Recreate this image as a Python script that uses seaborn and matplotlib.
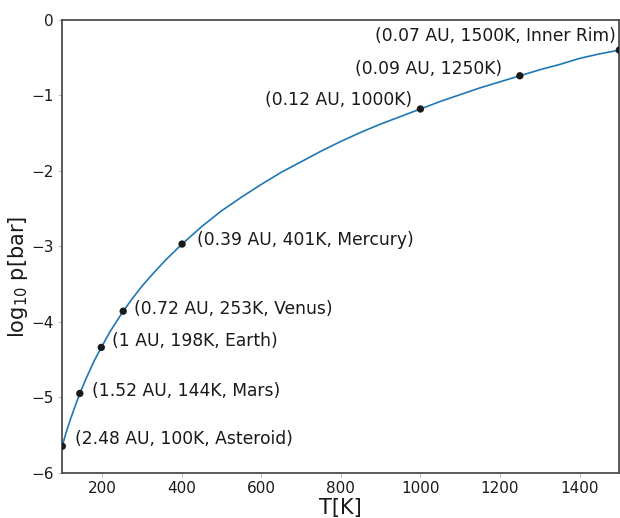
import numpy as np
import pandas as pd
import matplotlib
matplotlib.use('Agg')
import matplotlib.pyplot as plt
import seaborn as sns

# =========================
# DATA
# =========================
# vapour pressure curve, log10 p[bar] against T[K]
curve_T = [100, 105, 110, 115, 120, 130, 144, 160, 180, 198, 220, 253, 275,
           300, 330, 360, 401, 450, 500, 550, 600, 650, 700, 750, 800, 850,
           900, 950, 1000, 1050, 1100, 1150, 1200, 1250, 1300, 1350, 1400,
           1450, 1500]
curve_logp = [-5.65, -5.55, -5.46, -5.38, -5.30, -5.15, -4.95, -4.75, -4.52,
              -4.34, -4.13, -3.86, -3.70, -3.53, -3.35, -3.18, -2.97, -2.74,
              -2.53, -2.35, -2.18, -2.02, -1.88, -1.74, -1.61, -1.49, -1.38,
              -1.28, -1.18, -1.08, -0.99, -0.90, -0.82, -0.74, -0.66, -0.59,
              -0.51, -0.45, -0.40]

# marked locations
point_T = [100, 144, 198, 253, 401, 1000, 1250, 1500]
point_logp = [-5.65, -4.95, -4.34, -3.86, -2.97, -1.18, -0.74, -0.40]
point_labels = ['(2.48 AU, 100K, Asteroid)',
                '(1.52 AU, 144K, Mars)',
                '(1 AU, 198K, Earth)',
                '(0.72 AU, 253K, Venus)',
                '(0.39 AU, 401K, Mercury)',
                '(0.12 AU, 1000K)',
                '(0.09 AU, 1250K)',
                '(0.07 AU, 1500K, Inner Rim)']

df_curve = pd.DataFrame({'T': curve_T, 'logp': curve_logp})
df_points = pd.DataFrame({'T': point_T, 'logp': point_logp})

# =========================
# PLOTTING SETUP
# =========================
sns.set_theme(style='white')
plt.rcParams['font.family'] = ['DejaVu Sans']
plt.rcParams['mathtext.fontset'] = 'dejavusans'

fig = plt.figure(figsize=(6.2, 5.18), dpi=100)
ax = fig.add_axes([0.1005, 0.0875, 0.8984, 0.874])

sns.lineplot(data=df_curve, x='T', y='logp', ax=ax,
             color='#1f77b4', lw=1.2)
sns.scatterplot(data=df_points, x='T', y='logp', ax=ax,
                color='k', s=28, edgecolor='none', zorder=3)

# label offsets in pixels (dx, dy, alignment)
offsets = [(13, 7, 'left'), (12, 2, 'left'), (11, 6, 'left'), (11, 2, 'left'),
           (15, 4, 'left'), (-8, 9, 'right'), (-18, 7, 'right'),
           (-3, 14, 'right')]
for t, lp, lab, (dx, dy, ha) in zip(point_T, point_logp, point_labels, offsets):
    ax.annotate(lab, (t, lp), xytext=(dx, dy), textcoords='offset pixels',
                ha=ha, va='center', fontsize=12.3, color='k')

ax.set_xlim(100, 1500)
ax.set_ylim(-6, 0)
ax.set_xticks([200, 400, 600, 800, 1000, 1200, 1400])
ax.set_yticks([-6, -5, -4, -3, -2, -1, 0])

ax.set_xlabel('T[K]', fontsize=15, color='k')
ax.set_ylabel(r'log$_{10}$ p[bar]', fontsize=15, color='k')
ax.yaxis.set_label_coords(-0.058, 0.433)
ax.xaxis.set_label_coords(0.5, -0.056)

ax.tick_params(axis='both', labelsize=11, labelcolor='k', length=3,
               width=0.8, color='0.75', bottom=True, left=True, pad=3)
for sp in ax.spines.values():
    sp.set_color('0.3')
    sp.set_linewidth(1.3)

fig.savefig('out.png', dpi=100)
